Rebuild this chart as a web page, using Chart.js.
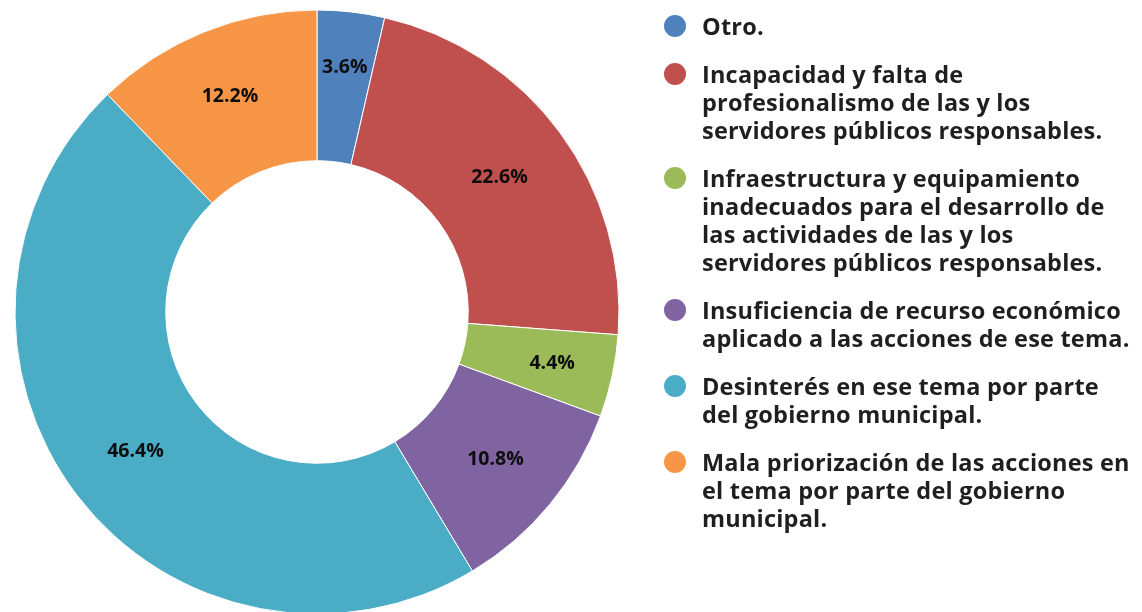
<!DOCTYPE html>
<html>
<head>
<meta charset="utf-8">
<script src="https://cdn.jsdelivr.net/npm/chart.js@4/dist/chart.umd.min.js"></script>
<style>
  html, body { margin: 0; padding: 0; background: #ffffff; }
  #wrap { position: relative; width: 1142px; height: 612px; overflow: hidden; }
  #c { position: absolute; left: 0; top: 0; }
  #legend { position: absolute; left: 664px; top: 12px; font-family: "Open Sans", sans-serif; font-weight: 700; font-size: 23.5px; letter-spacing: 0.2px; color: #1f1f1f; }
  .item { display: flex; align-items: flex-start; margin-bottom: 20px; }
  .dot { width: 22px; height: 22px; border-radius: 50%; margin-top: 3px; margin-right: 16px; flex: none; }
  .txt { line-height: 28px; white-space: nowrap; }
</style>
</head>
<body>
<div id="wrap">
  <canvas id="c" width="1142" height="612"></canvas>
  <div id="legend"></div>
</div>
<script>
const categories = [
  ["Otro."],
  ["Incapacidad y falta de", "profesionalismo de las y los", "servidores públicos responsables."],
  ["Infraestructura y equipamiento", "inadecuados para el desarrollo de", "las actividades de las y los", "servidores públicos responsables."],
  ["Insuficiencia de recurso económico", "aplicado a las acciones de ese tema."],
  ["Desinterés en ese tema por parte", "del gobierno municipal."],
  ["Mala priorización de las acciones en", "el tema por parte del gobierno", "municipal."]
];
const percentages = [3.6, 22.6, 4.4, 10.8, 46.4, 12.2];
const colors = ["#4F81BD", "#C0504D", "#9BBB59", "#8064A2", "#4BACC6", "#F79646"];

const sliceLabels = {
  id: 'sliceLabels',
  afterDatasetsDraw(chart, args, opts) {
    const ctx = chart.ctx;
    const meta = chart.getDatasetMeta(0);
    const data = chart.data.datasets[0].data;
    ctx.save();
    ctx.font = opts.font;
    ctx.fillStyle = opts.color;
    ctx.textAlign = 'center';
    ctx.textBaseline = 'middle';
    meta.data.forEach((arc, i) => {
      const p = arc.getProps(['x', 'y', 'startAngle', 'endAngle', 'innerRadius', 'outerRadius'], true);
      const mid = (p.startAngle + p.endAngle) / 2;
      const r = (p.innerRadius + p.outerRadius) / 2 + (opts.radialShift[i] || 0);
      ctx.fillText(data[i].toFixed(1) + '%', p.x + Math.cos(mid) * r, p.y + Math.sin(mid) * r);
    });
    ctx.restore();
  }
};

const chart = new Chart(document.getElementById('c'), {
  type: 'doughnut',
  data: {
    labels: categories,
    datasets: [{
      data: percentages,
      backgroundColor: colors,
      borderColor: '#ffffff',
      borderWidth: 1
    }]
  },
  options: {
    responsive: false,
    animation: false,
    radius: 302,
    cutout: 150,
    layout: { padding: { left: 0, right: 508, top: 12, bottom: 0 } },
    plugins: {
      legend: { display: false },
      tooltip: { enabled: false },
      sliceLabels: { font: '700 19.5px "Open Sans", sans-serif', color: '#0d0d0d', radialShift: [20, 0, 14, 5, 2, 6] }
    }
  },
  plugins: [sliceLabels]
});

const legend = document.getElementById('legend');
chart.data.labels.forEach((lab, i) => {
  const item = document.createElement('div');
  item.className = 'item';
  const dot = document.createElement('div');
  dot.className = 'dot';
  dot.style.background = chart.data.datasets[0].backgroundColor[i];
  const txt = document.createElement('div');
  txt.className = 'txt';
  txt.innerHTML = lab.map(s => s.replace(/&/g, '&amp;').replace(/</g, '&lt;')).join('<br>');
  item.appendChild(dot);
  item.appendChild(txt);
  legend.appendChild(item);
});
</script>
</body>
</html>
